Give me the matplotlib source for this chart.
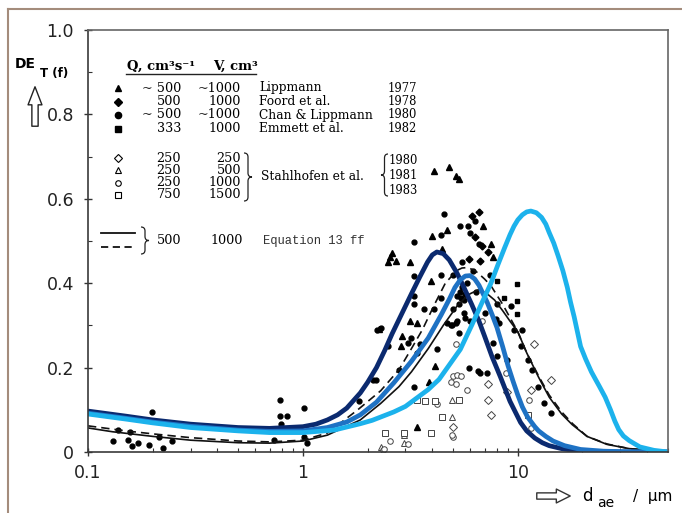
import matplotlib.pyplot as plt
from matplotlib.lines import Line2D
from matplotlib.path import Path
from matplotlib.patches import PathPatch

# ---- model curves ----
navy_x = [0.1, 0.15, 0.2, 0.3, 0.5, 0.7, 1.0, 1.15, 1.3, 1.45, 1.6, 1.85, 2.0, 2.2, 2.4,
          2.6, 2.9, 3.2, 3.5, 3.8, 4.0, 4.2, 4.5, 4.8, 5.2, 5.5, 6.1, 6.6, 7.0, 7.6, 8.3,
          9.2, 10.3, 11, 12, 13, 14, 16, 18, 22, 30, 50]
navy_y = [0.097, 0.085, 0.076, 0.066, 0.058, 0.056, 0.060, 0.066, 0.076, 0.088, 0.104,
          0.14, 0.165, 0.2, 0.24, 0.28, 0.33, 0.375, 0.415, 0.45, 0.467, 0.474, 0.47,
          0.455, 0.425, 0.40, 0.35, 0.31, 0.275, 0.225, 0.178, 0.12, 0.07, 0.05, 0.033,
          0.022, 0.015, 0.008, 0.004, 0.001, 0.0, 0.0]

mid_x = [0.1, 0.15, 0.2, 0.3, 0.5, 0.7, 1.0, 1.3, 1.6, 1.85, 2.2, 2.65, 3.2, 3.83, 4.4,
         4.8, 5.1, 5.4, 5.7, 6.0, 6.3, 6.6, 7.2, 7.6, 8.0, 8.5, 9.0, 9.5, 10.0, 10.5,
         11.1, 12, 12.5, 13.5, 14.6, 16.5, 19.6, 25, 30, 50]
mid_y = [0.092, 0.08, 0.071, 0.061, 0.052, 0.049, 0.05, 0.058, 0.071, 0.088, 0.118,
         0.164, 0.215, 0.27, 0.325, 0.362, 0.39, 0.408, 0.417, 0.418, 0.41, 0.395,
         0.355, 0.325, 0.295, 0.25, 0.205, 0.168, 0.135, 0.107, 0.083, 0.06, 0.05,
         0.037, 0.026, 0.015, 0.006, 0.002, 0.001, 0.0]

cyan_x = [0.1, 0.15, 0.2, 0.3, 0.5, 0.7, 1.0, 1.4, 1.85, 2.1, 2.65, 3.0, 3.83, 4.3, 5.4,
          6.1, 6.9, 7.5, 8.1, 8.7, 9.2, 9.6, 10.0, 10.5, 11.0, 11.5, 12.2, 12.9, 13.5,
          14, 14.7, 15.4, 16.2, 17, 17.6, 18.3, 19.6, 20.7, 22, 23, 24, 25.5, 27, 28.3,
          29.5, 31, 33, 37, 43, 50]
cyan_y = [0.09, 0.078, 0.069, 0.058, 0.05, 0.046, 0.046, 0.052, 0.067, 0.075, 0.095,
          0.108, 0.148, 0.172, 0.243, 0.30, 0.36, 0.40, 0.445, 0.485, 0.515, 0.535,
          0.55, 0.562, 0.569, 0.571, 0.567, 0.556, 0.54, 0.52, 0.495, 0.465, 0.43,
          0.39, 0.355, 0.32, 0.25, 0.22, 0.19, 0.172, 0.155, 0.13, 0.10, 0.073, 0.053,
          0.038, 0.027, 0.012, 0.004, 0.0]

eq_solid_x = [0.1, 0.13, 0.2, 0.3, 0.5, 0.7, 1.0, 1.3, 1.85, 2.3, 2.8, 3.2, 3.83, 4.5,
              5.2, 5.6, 6.0, 6.6, 7.2, 7.8, 8.5, 9.2, 10, 11, 12.5, 14, 16, 17.9, 21,
              26, 33, 44, 50]
eq_solid_y = [0.057, 0.048, 0.037, 0.028, 0.022, 0.021, 0.026, 0.04, 0.076, 0.115,
              0.155, 0.19, 0.245, 0.30, 0.345, 0.362, 0.375, 0.385, 0.375, 0.36, 0.335,
              0.31, 0.285, 0.235, 0.177, 0.13, 0.09, 0.065, 0.037, 0.018, 0.008, 0.003,
              0.0]

eq_dash_x = [0.1, 0.15, 0.2, 0.3, 0.5, 0.7, 1.0, 1.3, 1.8, 2.3, 2.8, 3.2, 3.6, 4.1, 4.6,
             5.2, 5.5, 5.8, 6.2, 6.5, 7.0, 7.5, 8.5, 10, 11, 12.5, 14, 16, 18, 21, 26,
             33, 44, 50]
eq_dash_y = [0.062, 0.05, 0.043, 0.034, 0.026, 0.024, 0.028, 0.045, 0.10, 0.145, 0.195,
             0.245, 0.29, 0.35, 0.40, 0.43, 0.436, 0.437, 0.432, 0.425, 0.41, 0.394,
             0.35, 0.285, 0.235, 0.18, 0.135, 0.095, 0.067, 0.037, 0.019, 0.008, 0.003,
             0.0]

# ---- measured points ----
lipp_x = [4.06, 4.78, 5.15, 5.3, 6.9, 4.7, 4.0, 7.5, 4.45, 7.7, 2.6, 2.5, 2.7, 3.16,
          3.93, 3.16, 3.4, 2.26, 2.9, 2.85, 3.85, 4.1, 3.4, 2.55]
lipp_y = [0.667, 0.676, 0.655, 0.647, 0.535, 0.527, 0.511, 0.493, 0.481, 0.461, 0.471,
          0.451, 0.453, 0.451, 0.405, 0.31, 0.306, 0.292, 0.276, 0.252, 0.167, 0.203,
          0.06, 0.461]

foord_x = [6.15, 6.6, 6.3, 6.8, 7.3, 5.9, 6.7]
foord_y = [0.56, 0.568, 0.509, 0.489, 0.475, 0.457, 0.453]

chan_x = [0.131, 0.138, 0.154, 0.157, 0.16, 0.17, 0.193, 0.198, 0.213, 0.224, 0.245,
          0.73, 0.785, 0.785, 0.84, 0.79, 1.01, 1.01, 1.05, 1.82, 2.13,
          4.54, 6.3, 5.38, 5.85, 4.37, 6.0, 3.29, 6.6, 5.5, 3.3, 4.37, 5.0, 4.37, 3.3,
          5.2, 3.3, 3.66, 4.06, 9.25, 5.3, 8.0, 4.7, 4.95, 5.2, 5.7, 7.9, 2.5, 3.1, 3.2,
          3.4, 3.5, 4.2, 4.9, 5.15, 5.3, 2.18, 2.8, 3.3, 6.5, 6.7, 7.2, 5.9, 9.6, 10.5,
          10.3, 11.1, 11.6, 12.4, 13.3, 14.2, 7.7, 8.0, 8.9, 8.2, 2.22, 2.3, 5.4, 5.6,
          5.5, 5.8, 6.2, 6.4, 5.0, 5.6, 6.0, 7.0, 7.4, 5.45, 5.7]
chan_y = [0.025, 0.052, 0.029, 0.048, 0.014, 0.021, 0.017, 0.094, 0.035, 0.01, 0.025,
          0.029, 0.124, 0.086, 0.086, 0.067, 0.104, 0.036, 0.022, 0.12, 0.17,
          0.564, 0.548, 0.535, 0.535, 0.514, 0.52, 0.497, 0.493, 0.451, 0.416, 0.419,
          0.419, 0.366, 0.37, 0.37, 0.35, 0.338, 0.338, 0.346, 0.35, 0.35, 0.306, 0.302,
          0.31, 0.318, 0.314, 0.252, 0.259, 0.271, 0.235, 0.255, 0.243, 0.302, 0.306,
          0.283, 0.171, 0.195, 0.155, 0.191, 0.187, 0.187, 0.199, 0.29, 0.29, 0.251,
          0.219, 0.195, 0.155, 0.116, 0.092, 0.259, 0.227, 0.219, 0.306, 0.29, 0.294,
          0.38, 0.36, 0.39, 0.40, 0.43, 0.38, 0.34, 0.33, 0.31, 0.33, 0.42, 0.365, 0.375]

emm_x = [9.9, 9.9, 9.9, 8.0, 8.6]
emm_y = [0.398, 0.358, 0.328, 0.405, 0.364]

st_dia_x = [7.3, 7.3, 7.5, 5.0, 11.5, 14.2, 11.9, 8.9]
st_dia_y = [0.162, 0.124, 0.088, 0.06, 0.148, 0.171, 0.255, 0.141]
st_tri_x = [4.95, 2.95, 2.95, 2.3, 4.95]
st_tri_y = [0.084, 0.04, 0.021, 0.013, 0.124]
st_cir_x = [5.0, 5.2, 5.45, 4.9, 5.15, 5.8, 6.8, 5.15, 8.8, 11.3, 11.5, 3.1, 2.55, 2.35,
            2.38, 4.2, 5.0, 4.95]
st_cir_y = [0.179, 0.183, 0.181, 0.167, 0.16, 0.146, 0.31, 0.257, 0.187, 0.124, 0.056,
            0.019, 0.027, 0.005, 0.007, 0.114, 0.036, 0.04]
st_sq_x = [3.4, 3.7, 4.1, 5.35, 4.45, 3.95, 2.95, 2.4, 11.1]
st_sq_y = [0.124, 0.122, 0.12, 0.124, 0.084, 0.045, 0.045, 0.045, 0.088]

x_ticks = [0.1, 1, 10]
x_tick_labels = ['0.1', '1', '10']
y_ticks = [0, 0.2, 0.4, 0.6, 0.8, 1.0]
y_tick_labels = ['0', '0.2', '0.4', '0.6', '0.8', '1.0']

W, H = 682, 513
SERIF = ['DejaVu Serif']
SANS = ['DejaVu Sans']


def fp(x, y):
    # picture pixel (from top-left) -> figure fraction
    return x / W, 1 - y / H


def brace(fig, x, y0, y1, w, right=True):
    ym = (y0 + y1) / 2
    r = min(4.0, (y1 - y0) / 6)
    s = 1 if right else -1
    xm = x + s * w / 2
    xt = x + s * w
    pts = [(x, y0), (xm, y0), (xm, y0 + r), (xm, ym - r), (xm, ym), (xt, ym),
           (xm, ym), (xm, ym + r), (xm, y1 - r), (xm, y1), (x, y1)]
    codes = [Path.MOVETO, Path.CURVE3, Path.CURVE3, Path.LINETO, Path.CURVE3,
             Path.CURVE3, Path.CURVE3, Path.CURVE3, Path.LINETO, Path.CURVE3,
             Path.CURVE3]
    path = Path([fp(a, b) for a, b in pts], codes)
    fig.add_artist(PathPatch(path, fill=False, lw=0.9, ec='#222222',
                             transform=fig.transFigure))


def main():
    fig = plt.figure(figsize=(W / 100, H / 100), dpi=100)
    ax = fig.add_axes([88 / W, 1 - 452 / H, 580 / W, 422 / H])

    # data points
    ax.plot(lipp_x, lipp_y, ls='none', marker='^', ms=4, color='black')
    ax.plot(foord_x, foord_y, ls='none', marker='D', ms=3.5, color='black')
    ax.plot(chan_x, chan_y, ls='none', marker='o', ms=3.5, color='black')
    ax.plot(emm_x, emm_y, ls='none', marker='s', ms=3.5, color='black')
    op = dict(ls='none', mfc='white', mec='#444444', mew=0.7, ms=4)
    ax.plot(st_dia_x, st_dia_y, marker='D', **op)
    ax.plot(st_tri_x, st_tri_y, marker='^', **op)
    ax.plot(st_cir_x, st_cir_y, marker='o', **op)
    ax.plot(st_sq_x, st_sq_y, marker='s', **op)

    # curves
    ax.plot(eq_solid_x, eq_solid_y, color='#111111', lw=1.2)
    ax.plot(eq_dash_x, eq_dash_y, color='#111111', lw=1.2, dashes=(5, 3))
    ax.plot(navy_x, navy_y, color='#0b2a6f', lw=3.4, solid_capstyle='round',
            solid_joinstyle='round')
    ax.plot(mid_x, mid_y, color='#1e72c4', lw=3.4, solid_capstyle='round',
            solid_joinstyle='round')
    ax.plot(cyan_x, cyan_y, color='#1cb2ec', lw=3.4, solid_capstyle='round',
            solid_joinstyle='round')

    ax.set_xscale('log')
    ax.set_xlim(0.1, 50)
    ax.set_ylim(0, 1.0)
    ax.set_xticks(x_ticks)
    ax.set_xticklabels(x_tick_labels, family=SANS, fontsize=12.5, color='#222222')
    ax.set_yticks(y_ticks)
    ax.set_yticklabels(y_tick_labels, family=SANS, fontsize=12.5, color='#222222')
    ax.set_yticks([0.1, 0.3, 0.5, 0.7, 0.9], minor=True)
    ax.tick_params(axis='both', which='major', direction='inout', length=6,
                   width=1, color='#333333', pad=6)
    ax.tick_params(axis='both', which='minor', direction='in', length=3,
                   width=0.8, color='#333333')
    ax.tick_params(axis='y', which='major', pad=7)
    for sp in ax.spines.values():
        sp.set_color('#3a3a3a')
        sp.set_linewidth(1.2)
    ax.spines['top'].set_color('#666666')
    ax.spines['right'].set_color('#666666')

    # legend drawn as a table of text
    t = ax.transAxes

    def ap(x, y):
        return (x - 88) / 580, (452 - y) / 422

    fv = 9.2   # Q and V values
    fn = 8.8   # names
    ax.text(*ap(127, 66), 'Q, cm³s⁻¹', family=SERIF, fontsize=9.5, fontweight='bold',
            transform=t, va='center')
    ax.text(*ap(213, 66), 'V, cm³', family=SERIF, fontsize=9.5, fontweight='bold',
            transform=t, va='center')
    ax.add_line(Line2D([ap(126, 0)[0], ap(256, 0)[0]], [ap(0, 74)[1]] * 2,
                       transform=t, color='#222222', lw=1))

    filled_rows = [('^', '~ 500', '~1000', 'Lippmann', '1977'),
                   ('D', '500', '1000', 'Foord et al.', '1978'),
                   ('o', '~ 500', '~1000', 'Chan & Lippmann', '1980'),
                   ('s', '333', '1000', 'Emmett et al.', '1982')]
    for i, (m, q, v, name, yr) in enumerate(filled_rows):
        y = 88 + i * 13.5
        ax.plot(*ap(118, y), marker=m, ms=4.5 if m != 'D' else 4, color='black',
                transform=t, clip_on=False)
        ax.text(*ap(181, y), q, family=SERIF, fontsize=fv, ha='right', va='center',
                transform=t)
        ax.text(*ap(241, y), v, family=SERIF, fontsize=fv, ha='right', va='center',
                transform=t)
        ax.text(*ap(259, y), name, family=SERIF, fontsize=fn, va='center', transform=t)
        ax.text(*ap(417, y), yr, family=SERIF, fontsize=8.3, ha='right', va='center',
                transform=t)

    open_rows = [('D', '250', '250'), ('^', '250', '500'), ('o', '250', '1000'),
                 ('s', '750', '1500')]
    for i, (m, q, v) in enumerate(open_rows):
        y = 158 + i * 12.3
        ax.plot(*ap(118, y), marker=m, ms=4, mfc='white', mec='black', mew=0.8,
                transform=t, clip_on=False)
        ax.text(*ap(181, y), q, family=SERIF, fontsize=fv, ha='right', va='center',
                transform=t)
        ax.text(*ap(241, y), v, family=SERIF, fontsize=fv, ha='right', va='center',
                transform=t)
    brace(fig, 244, 153, 201, 8, right=True)
    ax.text(*ap(261, 176), 'Stahlhofen et al.', family=SERIF, fontsize=fn, va='center',
            transform=t)
    brace(fig, 388, 154, 196, 7, right=False)
    for i, yr in enumerate(['1980', '1981', '1983']):
        ax.text(*ap(389, 161 + i * 14.5), yr, family=SERIF, fontsize=8.3, va='center',
                transform=t)

    ax.add_line(Line2D([ap(101, 0)[0], ap(135, 0)[0]], [ap(0, 233)[1]] * 2,
                       transform=t, color='#111111', lw=1.3, clip_on=False))
    ax.add_line(Line2D([ap(101, 0)[0], ap(135, 0)[0]], [ap(0, 247)[1]] * 2,
                       transform=t, color='#111111', lw=1.3, dashes=(4, 2.5),
                       clip_on=False))
    brace(fig, 141, 227, 254, 8, right=True)
    ax.text(*ap(181, 241), '500', family=SERIF, fontsize=fv, ha='right', va='center',
            transform=t)
    ax.text(*ap(243, 241), '1000', family=SERIF, fontsize=fv, ha='right', va='center',
            transform=t)
    ax.text(*ap(263, 241), 'Equation 13 ff', family=['Liberation Mono', 'DejaVu Sans Mono'],
            fontsize=8.7, va='center', transform=t, color='#333333')

    # axis labels
    fig.text(*fp(15, 64), 'DE', family=SANS, fontsize=10, fontweight='bold',
             va='center')
    fig.text(*fp(40, 73), 'T (f)', family=SANS, fontsize=8.5, fontweight='bold',
             va='center')
    ax.annotate('', xy=(35, H - 84), xytext=(35, H - 129), xycoords='figure pixels',
                textcoords='figure pixels',
                arrowprops=dict(arrowstyle='simple,head_width=1.0,head_length=1.3,'
                                           'tail_width=0.45',
                                fc='white', ec='#222222', lw=1, mutation_scale=10))
    ax.annotate('', xy=(573, H - 496), xytext=(534, H - 496), xycoords='figure pixels',
                textcoords='figure pixels',
                arrowprops=dict(arrowstyle='simple,head_width=1.0,head_length=1.0,'
                                           'tail_width=0.45',
                                fc='white', ec='#333333', lw=1, mutation_scale=10))
    fig.text(*fp(582, 496), 'd', family=SANS, fontsize=12, va='center')
    fig.text(*fp(597, 503), 'ae', family=SANS, fontsize=10, va='center')
    fig.text(*fp(633, 496), '/  µm', family=SANS, fontsize=11, va='center')

    # slide frame
    fig.add_artist(Line2D([8 / W, 8 / W], [0, 1 - 9 / H], color='#a48c7c', lw=1.5,
                          transform=fig.transFigure))
    fig.add_artist(Line2D([8 / W, 1], [1 - 9 / H] * 2, color='#a48c7c', lw=1.5,
                          transform=fig.transFigure))

    fig.savefig('out.png', dpi=100)


if __name__ == '__main__':
    main()
